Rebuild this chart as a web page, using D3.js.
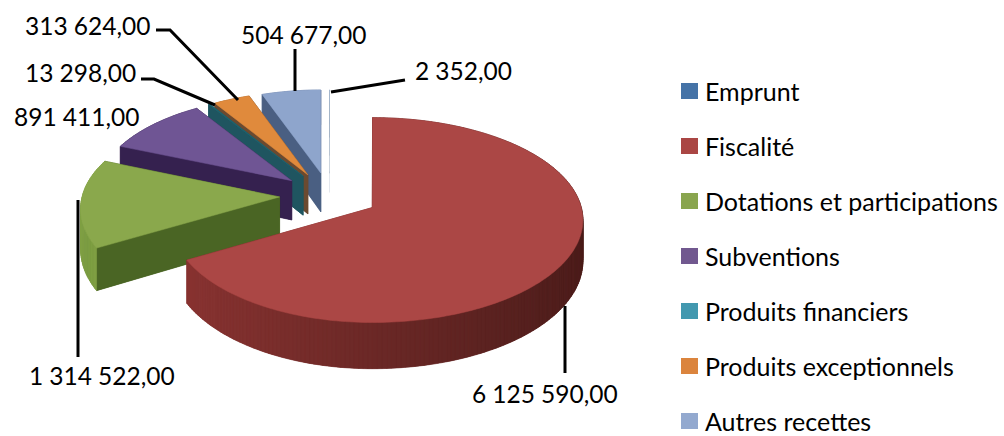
<!DOCTYPE html>
<html><head><meta charset="utf-8">
<script src="https://cdn.jsdelivr.net/npm/d3@7"></script>
<style>html,body{margin:0;padding:0;background:#fff}svg{display:block}text{font-family:Lato,"Open Sans",sans-serif;fill:#000}</style>
</head><body><svg id="c" width="1004" height="436"></svg>
<script>
const categories = ["Emprunt","Fiscalité","Dotations et participations","Subventions","Produits financiers","Produits exceptionnels","Autres recettes"];
const values = [2352,6125590,1314522,891411,13298,313624,504677];
const topColors = ["#4573a7","#ab4745","#8aa84c","#6f5594","#1f6470","#e08a3c","#8ea5cc"];
const legendColors = ["#4573a7","#aa4644","#89a54e","#71588f","#4298af","#db843d","#93a9cf"];
const wallColors = ["#2c4a6e","#7a2c2a","#4a6524","#35214f","#1f5560","#6b4a30","#4a5f82"];
const rimNear = ["#2c4a6e","#8d3533","#80a044","#35214f","#1f5560","#a0622a","#6a7fa5"];
const rimFar = ["#2c4a6e","#4a1c1a","#6c8a38","#35214f","#1f5560","#a0622a","#6a7fa5"];

const svg = d3.select("#c");
const W = {cx:329, cy:195.5, R:206, A:98, k:0.12, e:0.24, depth:40, leftSquash:0.957};
const arcs = d3.pie().sort(null).value(d=>d)(values);

function proj(ax, ay, lu, lv, dz){
  const v = ay + lv, s = 1/(1 - W.k*v);
  const u = lu < 0 ? lu*W.leftSquash : lu;
  const px = W.cx + W.R*ax*(1/(1 - W.k*ay)) + W.R*u*s;
  const py = W.cy + W.A*v*s + (dz ? W.depth*s : 0);
  return [px, py];
}
function slice(a, i){
  const mid = (a.startAngle+a.endAngle)/2;
  const ax = W.e*Math.sin(mid), ay = -W.e*Math.cos(mid);
  const n = Math.max(2, Math.ceil((a.endAngle-a.startAngle)/0.02));
  const angs = d3.range(n+1).map(j=>a.startAngle+(a.endAngle-a.startAngle)*j/n);
  const rim = angs.map(t=>[Math.sin(t), -Math.cos(t)]);
  const P = (u,v,d)=>proj(ax,ay,u,v,d);
  const sw = (a.endAngle-a.startAngle) < 0.005 ? 0 : 1;
  const faces = [];
  const first = rim[0], last = rim[rim.length-1];
  [first,last].forEach(p=>{
    faces.push({o:ay+p[1]/2, c:wallColors[i], pts:[P(0,0,0),P(p[0],p[1],0),P(p[0],p[1],1),P(0,0,1)]});
  });
  const ramp = d3.scaleLinear().domain([-1,1]).range([rimNear[i],rimFar[i]]).interpolate(d3.interpolateRgb);
  for(let j=0;j<n;j++){
    const p=rim[j], q=rim[j+1];
    faces.push({o:ay+(p[1]+q[1])/2, c:ramp((p[0]+q[0])/2),
      pts:[P(p[0],p[1],0),P(q[0],q[1],0),P(q[0],q[1],1),P(p[0],p[1],1)]});
  }
  faces.sort((x,y)=>x.o-y.o);
  const g = svg.append("g").attr("class","slice");
  const line = d3.line();
  g.append("path").attr("d", line([P(0,0,1)].concat(rim.map(p=>P(p[0],p[1],1))))+"Z").attr("fill",wallColors[i]);
  g.selectAll("path.w").data(faces).join("path").attr("class","w")
    .attr("d",f=>line(f.pts)+"Z").attr("fill",f=>f.c).attr("stroke",f=>f.c).attr("stroke-width",0.6*sw);
  g.append("path").attr("d", line([P(0,0,0)].concat(rim.map(p=>P(p[0],p[1],0))))+"Z")
    .attr("fill",topColors[i]).attr("stroke",topColors[i]).attr("stroke-width",0.5*sw);
}
[6,5,4,0,3,2,1].forEach(i=>slice(arcs[i],i));

// data labels
const fr = d3.formatLocale({decimal:",",thousands:"\u202f",grouping:[3]}).format(",.2f");
const labelAt = [
  {x:415,y:70, l:[[331,92],[405,80]]},
  {x:472,y:393,l:[[565,306],[565,373]]},
  {x:29, y:375,l:[[78,200],[78,357]]},
  {x:14, y:116,l:null},
  {x:25, y:72, l:[[141,79],[154,79],[215,105]]},
  {x:25, y:25, l:[[156,30],[170,30],[238,100]]},
  {x:241,y:34, l:[[295,49],[295,91]]}
];
svg.append("g").selectAll("path").data(labelAt.filter(d=>d.l)).join("path")
  .attr("d",d=>d3.line()(d.l)).attr("fill","none").attr("stroke","#000").attr("stroke-width",3);
svg.append("g").selectAll("text").data(values).join("text")
  .attr("x",(d,i)=>labelAt[i].x).attr("y",(d,i)=>labelAt[i].y)
  .attr("dominant-baseline","central").attr("font-size",24.5).text(d=>fr(d));

// legend
const ly = d3.scalePoint().domain(categories).range([91,421]);
const leg = svg.append("g").selectAll("g").data(categories).join("g")
  .attr("transform",d=>`translate(681,${ly(d)})`);
leg.append("rect").attr("x",0).attr("y",-8).attr("width",17).attr("height",16)
  .attr("fill",(d,i)=>legendColors[i]);
leg.append("text").attr("x",24).attr("y",0).attr("dominant-baseline","central")
  .attr("font-size",25).text(d=>d);
</script></body></html>
